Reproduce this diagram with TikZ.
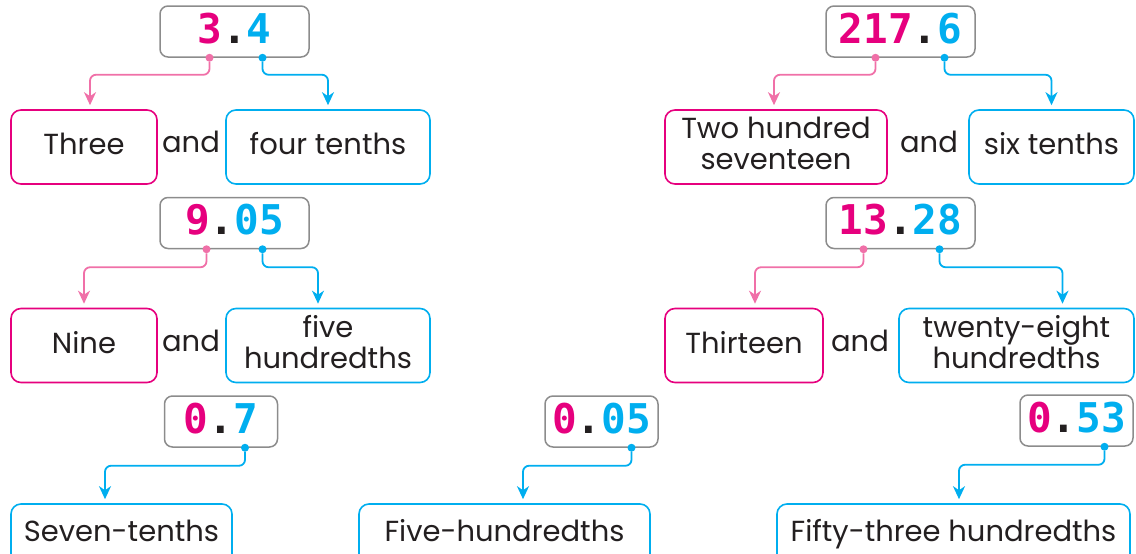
\documentclass[tikz,border=0pt]{standalone}
\usepackage{fontspec}
\usepackage{xcolor}
\usepackage{tikz}
\usetikzlibrary{arrows.meta, positioning}
\newfontfamily\numfont{DejaVu Sans Mono}
\newfontfamily\gothic{Poppins}
\definecolor{numpink}{RGB}{230,0,126}
\definecolor{linepink}{RGB}{240,112,168}
\definecolor{numblue}{RGB}{0,174,239}
\definecolor{boxgray}{RGB}{140,140,140}
\definecolor{ink}{RGB}{35,31,32}
\newcommand{\dec}[2]{\textcolor{numpink}{#1}.\textcolor{numblue}{#2}}
\tikzset{numbox/.style={draw=boxgray, line width=1.5pt, rounded corners=8pt, minimum width=149pt, minimum height=51pt, inner sep=0pt, text=ink, font=\numfont\bfseries\fontsize{41}{41}\selectfont, text height=30pt, text depth=7pt}}
\tikzset{word/.style={line width=1.6pt, rounded corners=10pt, minimum height=74pt, inner sep=0pt, align=center, text=ink, font=\gothic\fontsize{29}{31}\selectfont, text depth=7pt}}
\tikzset{intbox/.style={word, draw=numpink}}
\tikzset{fracbox/.style={word, draw=numblue}}
\tikzset{andtext/.style={text=ink, font=\gothic\fontsize{29}{31}\selectfont}}
\tikzset{dot/.style={circle, fill, inner sep=0pt, minimum size=8pt}}
\tikzset{intlink/.style={draw=linepink, line width=1.8pt, rounded corners=6pt, -{Stealth[length=13pt, width=12pt, inset=4pt]}, shorten >=4pt}}
\tikzset{fraclink/.style={intlink, draw=numblue}}

\begin{document}
\begin{tikzpicture}[x=1pt, y=-1pt]
        \useasboundingbox (0,0) rectangle (1136,554);

        % 3.4
        \node (n1) at (234.5,31.5) [numbox] {\dec{3}{4}};
        \node (i1) at ([xshift=-25pt]n1.south) [dot, linepink] {};
        \node (d1) at ([xshift=28pt]n1.south) [dot, numblue] {};
        \node (w1) at (84,147) [intbox, minimum width=146pt] {Three};
        \node (and1) at (191,142) [andtext] {and};
        \node (p1) at (328,147) [fracbox, minimum width=204pt] {four tenths};
        \draw[intlink] (i1) -- ++(0,17) -| ([xshift=6pt]w1.north);
        \draw[fraclink] (d1) -- ++(0,17) -| (p1.north);

        % 217.6
        \node (n2) at (900.5,31.5) [numbox] {\dec{217}{6}};
        \node (i2) at ([xshift=-25pt]n2.south) [dot, linepink] {};
        \node (d2) at ([xshift=44pt]n2.south) [dot, numblue] {};
        \node (w2) at (776,147) [intbox, minimum width=222pt] {Two hundred\\seventeen};
        \node (and2) at (929,142) [andtext] {and};
        \node (p2) at (1051.5,147) [fracbox, minimum width=165pt] {six tenths};
        \draw[intlink] (i2) -- ++(0,17) -| ([xshift=-2pt]w2.north);
        \draw[fraclink] (d2) -- ++(0,17) -| (p2.north);

        % 9.05
        \node (n3) at (234.5,223) [numbox] {\dec{9}{05}};
        \node (i3) at ([xshift=-28pt]n3.south) [dot, linepink] {};
        \node (d3) at ([xshift=28pt]n3.south) [dot, numblue] {};
        \node (w3) at (84,345.5) [intbox, minimum width=146pt] {Nine};
        \node (and3) at (191,341) [andtext] {and};
        \node (p3) at (328,345.5) [fracbox, minimum width=204pt] {five\\hundredths};
        \draw[intlink] (i3) -- ++(0,18) -| (w3.north);
        \draw[fraclink] (d3) -- ++(0,18) -| ([xshift=-10pt]p3.north);

        % 13.28
        \node (n4) at (900.5,223) [numbox] {\dec{13}{28}};
        \node (i4) at ([xshift=-37pt]n4.south) [dot, linepink] {};
        \node (d4) at ([xshift=39pt]n4.south) [dot, numblue] {};
        \node (w4) at (744,345.5) [intbox, minimum width=158pt] {Thirteen};
        \node (and4) at (860,341) [andtext] {and};
        \node (p4) at (1016.5,345.5) [fracbox, minimum width=235pt] {twenty-eight\\hundredths};
        \draw[intlink] (i4) -- ++(0,18) -| ([xshift=11pt]w4.north);
        \draw[fraclink] (d4) -- ++(0,18) -| ([xshift=46pt]p4.north);

        % only tenths and hundredths
        \node (n5) at (221,421.5) [numbox, minimum width=113pt] {\dec{0}{7}};
        \node (d5) at ([xshift=24pt]n5.south) [dot, numblue] {};
        \node (p5) at (121.5,534) [fracbox, minimum width=221pt, minimum height=60pt] {Seven-tenths};
        \draw[fraclink] (d5) -- ++(0,18) -| ([xshift=-16.5pt]p5.north);

        \node (n6) at (601.5,421.5) [numbox, minimum width=113pt] {\dec{0}{05}};
        \node (d6) at ([xshift=30pt]n6.south) [dot, numblue] {};
        \node (p6) at (504.5,534) [fracbox, minimum width=291pt, minimum height=60pt] {Five-hundredths};
        \draw[fraclink] (d6) -- ++(0,18) -| ([xshift=18.5pt]p6.north);

        \node (n7) at (1076.5,420.5) [numbox, minimum width=113pt] {\dec{0}{53}};
        \node (d7) at ([xshift=28pt]n7.south) [dot, numblue] {};
        \node (p7) at (953.5,534) [fracbox, minimum width=353pt, minimum height=60pt] {Fifty-three hundredths};
        \draw[fraclink] (d7) -- ++(0,18) -| ([xshift=5.5pt]p7.north);

\end{tikzpicture}
\end{document}
